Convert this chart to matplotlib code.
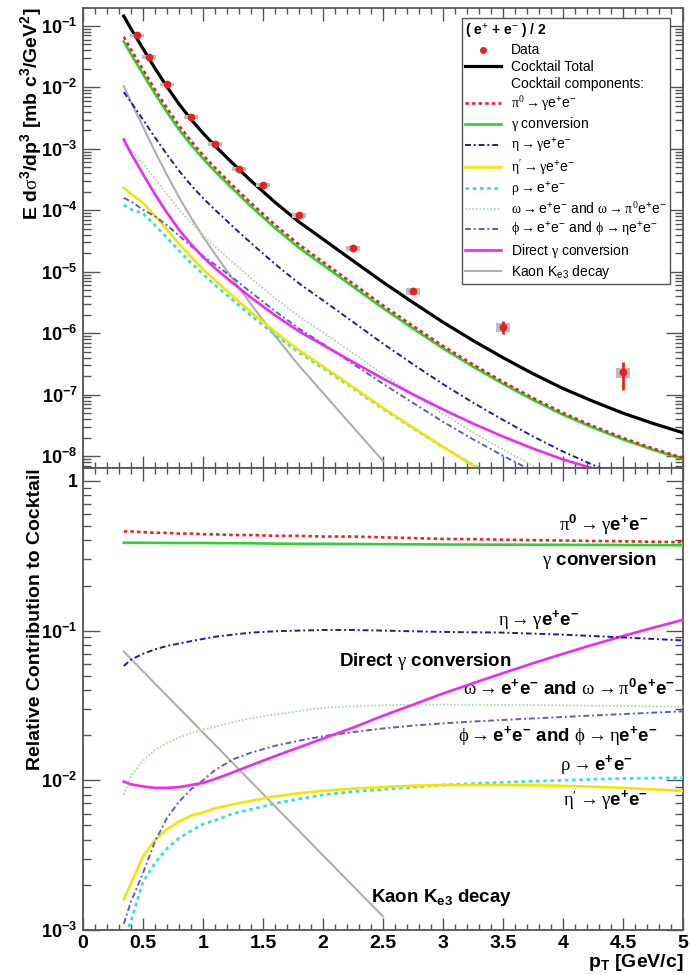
import numpy as np
import matplotlib
matplotlib.use('Agg')
import matplotlib.pyplot as plt
from matplotlib.lines import Line2D
from matplotlib.patches import Rectangle
from matplotlib.ticker import LogLocator, MultipleLocator, NullFormatter

plt.rcParams['font.family'] = ['Liberation Sans', 'DejaVu Sans']
plt.rcParams['mathtext.fontset'] = 'custom'
plt.rcParams['mathtext.rm'] = 'Liberation Sans'
plt.rcParams['mathtext.it'] = 'Liberation Sans:italic'
plt.rcParams['mathtext.bf'] = 'Liberation Sans:bold'
plt.rcParams['mathtext.sf'] = 'Liberation Serif'

# pT grid of the cocktail curves
pt = [0.34, 0.4, 0.5, 0.6, 0.7, 0.8, 0.9, 1.0, 1.1, 1.25, 1.4, 1.6, 1.8, 2.0,
      2.25, 2.5, 2.75, 3.0, 3.25, 3.5, 3.75, 4.0, 4.25, 4.5, 4.75, 5.0]

# cocktail total (upper panel, black)
total = [1.445e-1, 8.99e-2, 4.27e-2, 2.04e-2, 1.023e-2, 5.37e-3, 3.02e-3, 1.80e-3,
         1.12e-3, 5.75e-4, 3.02e-4, 1.35e-4, 6.46e-5, 3.39e-5, 1.51e-5, 6.76e-6,
         3.16e-6, 1.51e-6, 7.6e-7, 4.0e-7, 2.19e-7, 1.26e-7, 7.8e-8, 5.0e-8, 3.4e-8,
         2.4e-8]

# relative contributions (lower panel)
r_pi0 = [0.46, 0.46, 0.455, 0.45, 0.45, 0.445, 0.445, 0.44, 0.44, 0.435, 0.435, 0.43,
         0.43, 0.425, 0.425, 0.42, 0.415, 0.41, 0.408, 0.405, 0.402, 0.40, 0.397, 0.395,
         0.392, 0.39]
r_gamma = [0.386, 0.386, 0.386, 0.386, 0.385, 0.385, 0.385, 0.385, 0.384, 0.384, 0.383,
           0.381, 0.380, 0.380, 0.379, 0.378, 0.377, 0.376, 0.3755, 0.375, 0.3745, 0.374,
           0.3735, 0.373, 0.3725, 0.372]
r_eta = [0.058, 0.064, 0.070, 0.075, 0.079, 0.082, 0.085, 0.088, 0.091, 0.094, 0.097,
         0.099, 0.100, 0.101, 0.101, 0.100, 0.099, 0.098, 0.0975, 0.097, 0.0955, 0.094,
         0.092, 0.090, 0.088, 0.086]
r_etap = [1.6e-3, 2.05e-3, 3.1e-3, 4.0e-3, 4.7e-3, 5.3e-3, 5.8e-3, 6.1e-3, 6.5e-3, 6.9e-3,
          7.3e-3, 7.8e-3, 8.2e-3, 8.5e-3, 8.8e-3, 9.0e-3, 9.2e-3, 9.3e-3, 9.3e-3, 9.3e-3,
          9.25e-3, 9.2e-3, 9.05e-3, 8.9e-3, 8.7e-3, 8.5e-3]
r_rho = [8.5e-4, 1.15e-3, 2.1e-3, 2.8e-3, 3.5e-3, 4.1e-3, 4.6e-3, 5.1e-3, 5.4e-3, 6.0e-3,
         6.4e-3, 7.0e-3, 7.5e-3, 8.0e-3, 8.4e-3, 8.7e-3, 9.0e-3, 9.3e-3, 9.5e-3, 9.7e-3,
         9.85e-3, 1.0e-2, 1.015e-2, 1.03e-2, 1.035e-2, 1.04e-2]
r_omega = [0.0080, 0.0107, 0.0135, 0.016, 0.0178, 0.0193, 0.0207, 0.0218, 0.0228, 0.0245,
           0.026, 0.0275, 0.029, 0.0305, 0.0312, 0.0317, 0.032, 0.032, 0.032, 0.0319,
           0.0318, 0.0317, 0.0315, 0.0314, 0.0312, 0.031]
r_phi = [1.1e-3, 1.55e-3, 2.4e-3, 3.9e-3, 5.6e-3, 7.2e-3, 8.7e-3, 1.0e-2, 1.17e-2, 1.38e-2,
         1.53e-2, 1.7e-2, 1.84e-2, 1.97e-2, 2.1e-2, 2.22e-2, 2.32e-2, 2.4e-2, 2.47e-2,
         2.53e-2, 2.59e-2, 2.65e-2, 2.71e-2, 2.77e-2, 2.83e-2, 2.89e-2]
r_direct = [0.0098, 0.0094, 0.0091, 0.0089, 0.0089, 0.009, 0.0093, 0.0096, 0.0102, 0.0113,
            0.0126, 0.0145, 0.0166, 0.019, 0.0225, 0.027, 0.032, 0.038, 0.0445, 0.052,
            0.0605, 0.070, 0.0805, 0.092, 0.1045, 0.118]
r_kaon = [0.0724, 0.0647, 0.0535, 0.0443, 0.0367, 0.0304, 0.0252, 0.0208, 0.0173, 0.0130,
          0.0098, 0.0067, 0.0046, 0.00315, 0.00197, 0.00123, np.nan, np.nan, np.nan,
          np.nan, np.nan, np.nan, np.nan, np.nan, np.nan, np.nan]

# (e+ + e-)/2 data
data_x = [0.45, 0.55, 0.7, 0.9, 1.1, 1.3, 1.5, 1.8, 2.25, 2.75, 3.5, 4.5]
data_y = [7.0e-2, 3.1e-2, 1.12e-2, 3.3e-3, 1.2e-3, 4.7e-4, 2.6e-4, 8.3e-5, 2.4e-5,
          4.8e-6, 1.26e-6, 2.3e-7]
stat_err = [1.5e-3, 6e-4, 2e-4, 6e-5, 2.5e-5, 1e-5, 6e-6, 2.5e-6, 1.2e-6, 4e-7, 3e-7, 1.1e-7]
sys_err = [5e-3, 2.2e-3, 8e-4, 2.4e-4, 9e-5, 3.5e-5, 2e-5, 7e-6, 2.2e-6, 5.5e-7, 2.2e-7, 4.6e-8]

xticks = [0, 0.5, 1, 1.5, 2, 2.5, 3, 3.5, 4, 4.5, 5]
xtick_labels = ['0', '0.5', '1', '1.5', '2', '2.5', '3', '3.5', '4', '4.5', '5']

RED = '#e8231f'
components = [
    # ratio, colour, linestyle, width, legend label, z
    (r_pi0, RED, (0, (1.3, 1.2)), 1.9, r'$\mathsf{\pi^{0}\rightarrow\gamma}$e$^{+}$e$^{-}$', 9),
    (r_gamma, '#2fd12f', '-', 1.9, r'$\mathsf{\gamma}$ conversion', 8),
    (r_eta, '#1c1ca8', (0, (3, 1.5, 1, 1.5)), 1.4, r'$\mathsf{\eta\rightarrow\gamma}$e$^{+}$e$^{-}$', 7),
    (r_etap, '#f2e600', '-', 1.9, r"$\mathsf{\eta'\rightarrow\gamma}$e$^{+}$e$^{-}$", 4),
    (r_rho, '#3ddcdc', (0, (1.3, 1.3)), 2.0, r'$\mathsf{\rho\rightarrow}$e$^{+}$e$^{-}$', 3),
    (r_omega, '#a9dba9', (0, (1, 1)), 1.3,
     r'$\mathsf{\omega\rightarrow}$e$^{+}$e$^{-}$ and $\mathsf{\omega\rightarrow\pi^{0}}$e$^{+}$e$^{-}$', 5),
    (r_phi, '#5c5cc8', (0, (3, 1.5, 1, 1.5)), 1.4,
     r'$\mathsf{\phi\rightarrow}$e$^{+}$e$^{-}$ and $\mathsf{\phi\rightarrow\eta}$e$^{+}$e$^{-}$', 5),
    (r_direct, '#ee2aee', '-', 1.9, r'Direct $\mathsf{\gamma}$ conversion', 6),
    (r_kaon, '#b4acac', '-', 1.5, r'Kaon K$_{\mathrm{e3}}$ decay', 2),
]

FRAME = '#555555'

fig = plt.figure(figsize=(6.9, 9.75), dpi=100)
ax1 = fig.add_axes([83 / 690, 1 - 468 / 975, 600 / 690, 460 / 975])
ax2 = fig.add_axes([83 / 690, 1 - 930 / 975, 600 / 690, 462 / 975])

pt_a = np.array(pt)
tot_a = np.array(total)

# ---- upper panel: spectra
for ratio, col, ls, lw, lab, z in components:
    ax1.plot(pt_a, tot_a * np.array(ratio), color=col, ls=ls, lw=lw, zorder=z)
ax1.plot(pt_a, tot_a, color='black', lw=2.3, zorder=10)

for x, y, s in zip(data_x, data_y, sys_err):
    ax1.add_patch(Rectangle((x - 0.06, y - s), 0.12, 2 * s, facecolor='#bdbdbd',
                            edgecolor='none', zorder=11))
ax1.errorbar(data_x, data_y, yerr=stat_err, fmt='o', color=RED, ms=4.6, elinewidth=2,
             capsize=0, zorder=12)

ax1.set_yscale('log')
ax1.set_xlim(0, 5)
ax1.set_ylim(6.4e-9, 0.196)

handles = [Line2D([], [], ls='none', marker='o', color=RED, ms=4),
           Line2D([], [], color='black', lw=2.3),
           Line2D([], [], ls='none')]
labels = ['Data', 'Cocktail Total', 'Cocktail components:']
for ratio, col, ls, lw, lab, z in components:
    handles.append(Line2D([], [], color=col, ls=ls, lw=lw))
    labels.append(lab)
leg = ax1.legend(handles, labels, loc='upper right', bbox_to_anchor=(0.978, 0.978),
                 borderaxespad=0, fontsize=10, title=r'( e$^{+}$ + e$^{-}$ ) / 2',
                 title_fontproperties={'weight': 'bold', 'size': 10}, alignment='left',
                 fancybox=False, framealpha=1, edgecolor=FRAME, handlelength=2.6,
                 handletextpad=0.7, labelspacing=0.2, borderpad=0.25)
leg.get_frame().set_linewidth(1.0)

ax1.set_ylabel(r'E d$\mathsf{\sigma}^{\mathbf{3}}$/dp$^{\mathbf{3}}$ [mb c$^{\mathbf{3}}$/GeV$^{\mathbf{2}}$]',
               fontsize=14, fontweight='bold', loc='top')
ax1.yaxis.set_label_coords(-0.065, 1.0)
ydec1 = [1e-8, 1e-7, 1e-6, 1e-5, 1e-4, 1e-3, 1e-2, 1e-1]
ax1.set_yticks(ydec1, [r'$\mathbf{10^{%d}}$' % round(np.log10(v)) for v in ydec1], fontsize=13)
ax1.yaxis.set_minor_locator(LogLocator(base=10, subs=np.arange(2, 10), numticks=20))
ax1.yaxis.set_minor_formatter(NullFormatter())
ax1.set_xticks(xticks, [''] * len(xticks))

# ---- lower panel: relative contributions
for ratio, col, ls, lw, lab, z in components:
    ax2.plot(pt_a, ratio, color=col, ls=ls, lw=lw, zorder=z)

ax2.set_yscale('log')
ax2.set_xlim(0, 5)
ax2.set_ylim(1e-3, 1.22)

notes = [
    (4.71, 0.507, r'$\mathsf{\pi}^{\mathbf{0}}\mathsf{\rightarrow\gamma}\mathbf{e^{+}e^{-}}$'),
    (4.78, 0.296, r'$\mathsf{\gamma}$ conversion'),
    (4.14, 0.117, r'$\mathsf{\eta\rightarrow\gamma}\mathbf{e^{+}e^{-}}$'),
    (3.575, 0.0623, r'Direct $\mathsf{\gamma}$ conversion'),
    (4.93, 0.041, r'$\mathsf{\omega\rightarrow}\mathbf{e^{+}e^{-}}$ and $\mathsf{\omega\rightarrow\pi}^{\mathbf{0}}\mathbf{e^{+}e^{-}}$'),
    (4.79, 0.0199, r'$\mathsf{\phi\rightarrow}\mathbf{e^{+}e^{-}}$ and $\mathsf{\phi\rightarrow\eta}\mathbf{e^{+}e^{-}}$'),
    (4.58, 0.0127, r'$\mathsf{\rho\rightarrow}\mathbf{e^{+}e^{-}}$'),
    (4.71, 0.0073, r"$\mathsf{\eta'\rightarrow\gamma}\mathbf{e^{+}e^{-}}$"),
    (3.575, 0.00166, r'Kaon K$_{\mathbf{e3}}$ decay'),
]
for x, y, s in notes:
    ax2.text(x, y, s, ha='right', va='center', fontsize=13.5, fontweight='bold')

ax2.set_ylabel('Relative Contribution to Cocktail', fontsize=14, fontweight='bold', loc='top')
ax2.yaxis.set_label_coords(-0.065, 1.0)
ax2.set_yticks([1e-3, 1e-2, 1e-1, 1],
               [r'$\mathbf{10^{-3}}$', r'$\mathbf{10^{-2}}$', r'$\mathbf{10^{-1}}$', '1'],
               fontsize=13, fontweight='bold')
ax2.yaxis.set_minor_locator(LogLocator(base=10, subs=np.arange(2, 10), numticks=20))
ax2.yaxis.set_minor_formatter(NullFormatter())
ax2.set_xticks(xticks, xtick_labels, fontsize=14, fontweight='bold')
ax2.set_xlabel(r'p$_{\mathbf{T}}$ [GeV/c]', fontsize=14, fontweight='bold', loc='right',
               labelpad=0)

for ax in (ax1, ax2):
    ax.xaxis.set_minor_locator(MultipleLocator(0.1))
    ax.tick_params(which='both', direction='in', top=True, right=True, colors='black')
    ax.tick_params(which='both', color=FRAME)
    ax.tick_params(axis='x', which='major', length=9, width=1)
    ax.tick_params(axis='x', which='minor', length=4.5, width=1)
    ax.tick_params(axis='y', which='major', length=12, width=1)
    ax.tick_params(axis='y', which='minor', length=6, width=1)
    ax.tick_params(axis='y', pad=4)
    for sp in ax.spines.values():
        sp.set_color(FRAME)
        sp.set_linewidth(1.3)

fig.savefig('out.png', dpi=100)
